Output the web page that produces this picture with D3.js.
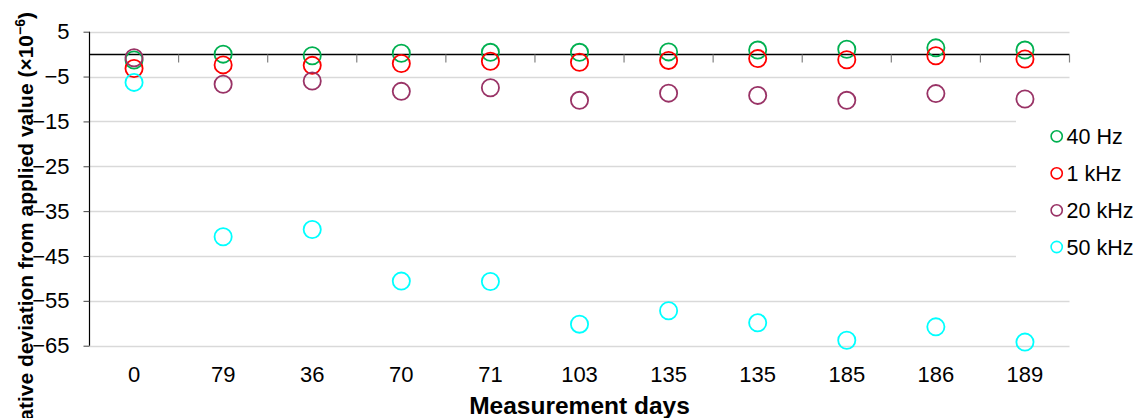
<!DOCTYPE html>
<html><head><meta charset="utf-8">
<script src="https://cdn.jsdelivr.net/npm/d3@7"></script>
<style>
html,body{margin:0;padding:0;background:#fff;}
svg{display:block;font-family:"Liberation Sans",Arial,sans-serif;}
</style></head>
<body>
<svg id="chart" width="1137" height="418"></svg>
<script>
const categories = ["0","79","36","70","71","103","135","135","185","186","189"];
const seriesNames = ["40 Hz","1 kHz","20 kHz","50 kHz"];
const seriesColors = ["#00b050","#ff0000","#993366","#00ffff"];
const values40Hz  = [-1.3, 0.0, -0.35, 0.2, 0.4, 0.4, 0.5, 0.9, 1.1, 1.4, 0.9];
const values1kHz  = [-3.2, -2.4, -2.5, -2.1, -1.6, -1.8, -1.4, -1.0, -1.25, -0.35, -1.1];
const values20kHz = [-0.8, -6.7, -6.0, -8.3, -7.5, -10.3, -8.7, -9.2, -10.3, -8.8, -10.0];
const values50kHz = [-6.3, -40.7, -39.1, -50.6, -50.7, -60.2, -57.2, -59.9, -63.8, -60.8, -64.2];
const yTicks = [5, -5, -15, -25, -35, -45, -55, -65];
const allSeries = [values40Hz, values1kHz, values20kHz, values50kHz];

const svg = d3.select("#chart");
const pLeft = 89.5, pRight = 1069.5, pTop = 31.7, pBottom = 345.7;

const x = d3.scaleBand().domain(d3.range(categories.length)).range([pLeft, pRight]).padding(0);
const y = d3.scaleLinear().domain([-65, 5]).range([pBottom, pTop]);

// gridlines
const grid = svg.append("g");
grid.selectAll("line").data(yTicks).join("line")
  .attr("x1", pLeft).attr("x2", pRight)
  .attr("y1", d => Math.round(y(d)) + 0.5).attr("y2", d => Math.round(y(d)) + 0.5)
  .attr("stroke", "#d9d9d9").attr("stroke-width", 1.5);

// y axis
const yAxis = d3.axisLeft(y).tickValues(yTicks).tickSize(6).tickPadding(14).tickFormat(d3.format("d"));
const gy = svg.append("g").attr("transform", `translate(${pLeft},0)`).call(yAxis);
gy.select(".domain").attr("stroke", "#000").attr("stroke-width", 1.2).attr("d", `M0,${pTop}V${pBottom}`);
gy.selectAll(".tick line").attr("stroke", "#444");
gy.selectAll(".tick text").attr("font-size", 22).attr("fill", "#000").attr("font-family", "Liberation Sans, Arial, sans-serif");

// zero line axis with boundary ticks
const y0 = Math.round(y(0)) + 0.5;
const bounds = d3.range(categories.length + 1).map(i => i === categories.length ? pRight : x(i));
const zero = svg.append("g");
zero.append("line").attr("x1", pLeft).attr("x2", pRight).attr("y1", y0).attr("y2", y0)
  .attr("stroke", "#000").attr("stroke-width", 1.5);
zero.selectAll("line.tk").data(bounds.slice(1)).join("line").attr("class", "tk")
  .attr("x1", d => d).attr("x2", d => d).attr("y1", y0).attr("y2", y0 + 8)
  .attr("stroke", "#808080").attr("stroke-width", 1.2);

// x tick labels
svg.append("g").selectAll("text").data(categories).join("text")
  .attr("x", (d, i) => x(i) + x.bandwidth() / 2)
  .attr("y", 381.7)
  .attr("text-anchor", "middle").attr("font-size", 22).attr("fill", "#000")
  .text(d => d);

// x title
svg.append("text").attr("x", (pLeft + pRight) / 2).attr("y", 414)
  .attr("text-anchor", "middle").attr("font-size", 24.5).attr("font-weight", "bold")
  .text("Measurement days");

// y title
const yt = svg.append("text").attr("transform", "translate(33,12) rotate(-90)")
  .attr("text-anchor", "end").attr("font-size", 21).attr("font-weight", "bold");
yt.append("tspan").text("Relative deviation from applied value (×10");
yt.append("tspan").attr("font-size", 14).attr("dy", -8).text("−6");
yt.append("tspan").attr("dy", 8).text(")");

// points
allSeries.forEach((vals, s) => {
  svg.append("g").selectAll("circle").data(vals).join("circle")
    .attr("cx", (d, i) => x(i) + x.bandwidth() / 2)
    .attr("cy", d => y(d))
    .attr("r", 8.6)
    .attr("fill", "none")
    .attr("stroke", seriesColors[s])
    .attr("stroke-width", 1.8);
});

// legend
svg.append("rect").attr("x", 1016).attr("y", 112).attr("width", 121).attr("height", 152).attr("fill", "#fff");
const lg = svg.append("g");
const legY = [136.3, 173.3, 210.3, 247.0];
seriesNames.forEach((n, i) => {
  lg.append("circle").attr("cx", 1056.7).attr("cy", legY[i]).attr("r", 5.6)
    .attr("fill", "none").attr("stroke", seriesColors[i]).attr("stroke-width", 1.6);
  lg.append("text").attr("x", 1066.5).attr("y", legY[i]).attr("dy", "0.36em")
    .attr("font-size", 21.5).attr("fill", "#000").text(n);
});
</script>
</body></html>
